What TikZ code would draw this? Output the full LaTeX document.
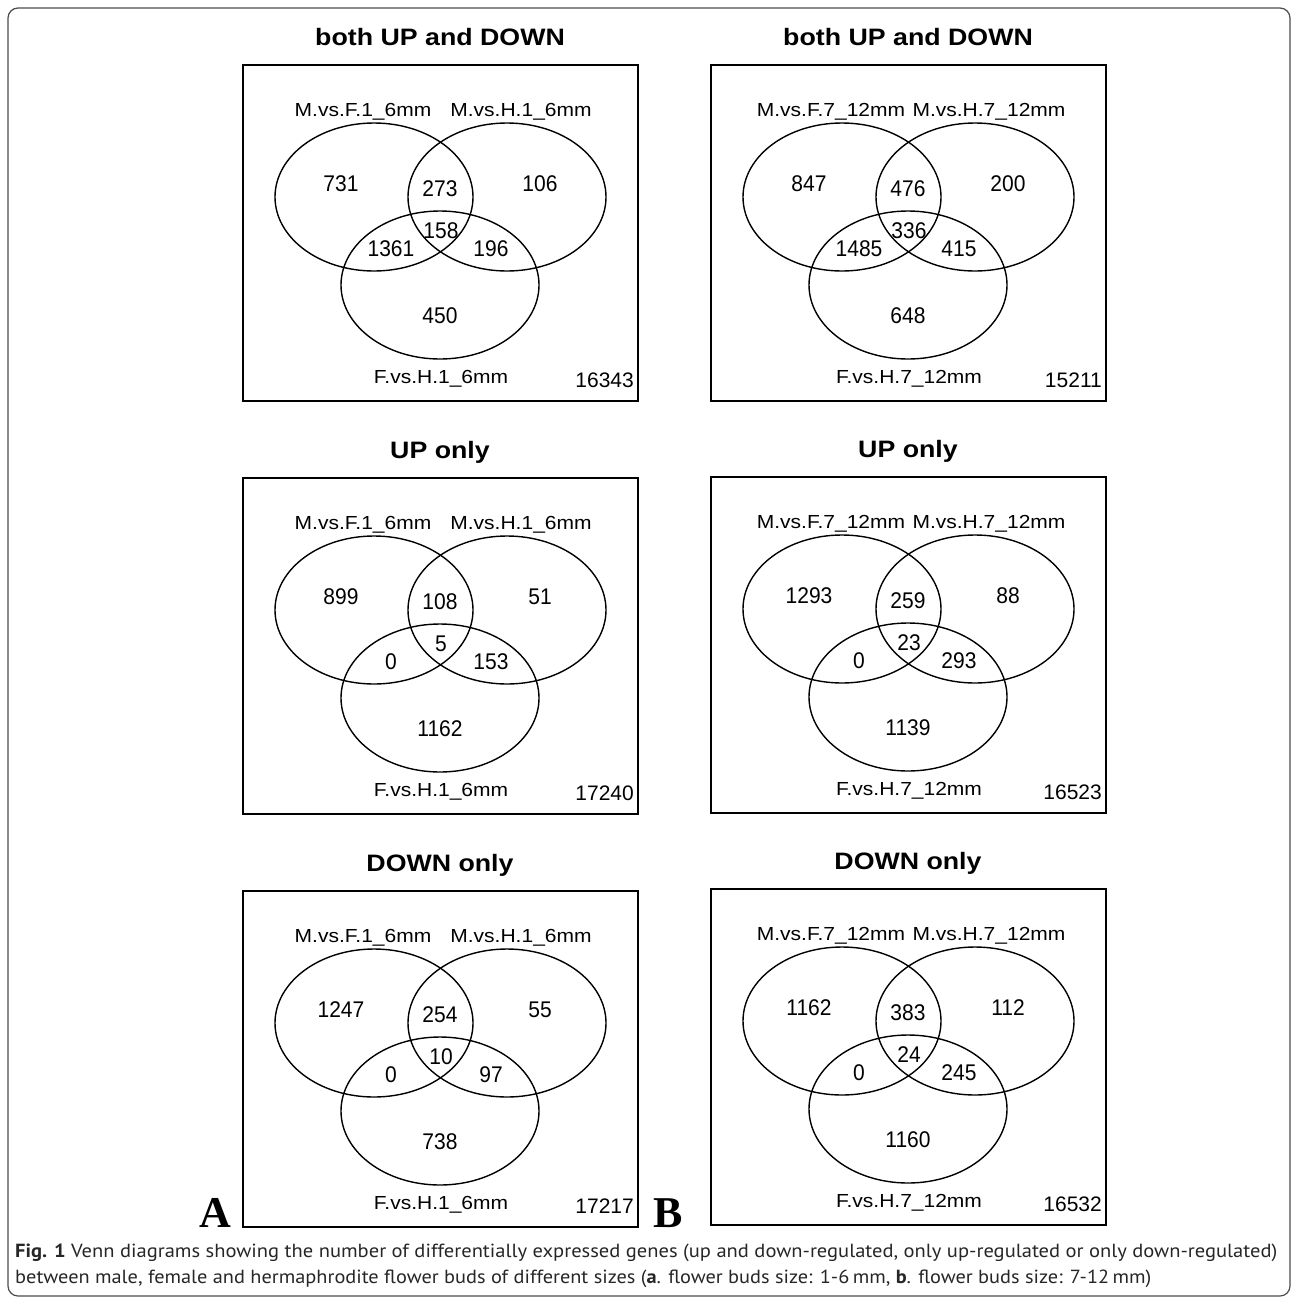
\documentclass[tikz,border=0pt]{standalone}
\usepackage{fontspec}
\setmainfont{Liberation Sans}
\newfontfamily\capfont{PT Sans}
\newfontfamily\serifbold{Liberation Serif}
\tikzset{
  boxline/.style={line width=1.4pt},
  vennline/.style={line width=1.4pt},
  numtxt/.style={font=\fontsize{21}{21}\selectfont, inner sep=0pt, text height=16.2pt, text depth=0pt},
  labtxt/.style={font=\fontsize{21}{21}\selectfont, inner sep=0pt, text height=13.5pt, text depth=0pt},
  tottxt/.style={font=\fontsize{21}{21}\selectfont, inner sep=0pt, text height=15pt, text depth=0pt, anchor=east},
  titletxt/.style={font=\fontsize{25}{25}\selectfont\bfseries, inner sep=0pt, text height=17pt, text depth=0pt},
  panellab/.style={font=\serifbold\bfseries\fontsize{44}{44}\selectfont, inner sep=0pt, text height=29pt, text depth=0pt},
  captxt/.style={font=\capfont\fontsize{19}{19}\selectfont, inner sep=0pt, anchor=base west, text=black!85},
  framebox/.style={line width=1.2pt, draw=black!70, rounded corners=10pt}
}
\newcommand\vennframe[6]{%
  \draw[boxline] (0,0) rectangle (395,336);
  \node[titletxt] (#1title) at (197,-28) {\scalebox{1.07}[0.95]{#2}};
  \draw[vennline] (131,132) ellipse [x radius=99pt, y radius=74pt];
  \draw[vennline] (264,132) ellipse [x radius=99pt, y radius=74pt];
  \draw[vennline] (197,220) ellipse [x radius=99pt, y radius=74pt];
  \node[labtxt] (#1la) at (120,45) {\scalebox{1}[0.9]{#3}};
  \node[labtxt] (#1lb) at (278,45) {\scalebox{1}[0.9]{#4}};
  \node[labtxt] (#1lc) at (198,312) {\scalebox{1}[0.9]{#5}};
  \node[tottxt] (#1tot) at (391,315) {#6};
}
\newcommand\vennnums[8]{%
  \node[numtxt] (#1a) at (98,118) {\scalebox{1}[1.08]{#2}};
  \node[numtxt] (#1ab) at (197,123) {\scalebox{1}[1.08]{#3}};
  \node[numtxt] (#1b) at (297,118) {\scalebox{1}[1.08]{#4}};
  \node[numtxt] (#1abc) at (198,165) {\scalebox{1}[1.08]{#5}};
  \node[numtxt] (#1ac) at (148,183) {\scalebox{1}[1.08]{#6}};
  \node[numtxt] (#1bc) at (248,183) {\scalebox{1}[1.08]{#7}};
  \node[numtxt] (#1c) at (197,250) {\scalebox{1}[1.08]{#8}};
}
\begin{document}
\begin{tikzpicture}[x=1pt, y=-1pt]
\useasboundingbox (0,0) rectangle (1292,1299);
\draw[framebox] (8,8) rectangle (1290,1296);

\begin{scope}[shift={(243,65)}]
  \vennframe{La}{both UP and DOWN}{M.vs.F.1\_6mm}{M.vs.H.1\_6mm}{F.vs.H.1\_6mm}{16343}
  \vennnums{La}{731}{273}{106}{158}{1361}{196}{450}
\end{scope}
\begin{scope}[shift={(243,478)}]
  \vennframe{Lb}{UP only}{M.vs.F.1\_6mm}{M.vs.H.1\_6mm}{F.vs.H.1\_6mm}{17240}
  \vennnums{Lb}{899}{108}{51}{5}{0}{153}{1162}
\end{scope}
\begin{scope}[shift={(243,891)}]
  \vennframe{Lc}{DOWN only}{M.vs.F.1\_6mm}{M.vs.H.1\_6mm}{F.vs.H.1\_6mm}{17217}
  \vennnums{Lc}{1247}{254}{55}{10}{0}{97}{738}
\end{scope}
\begin{scope}[shift={(711,65)}]
  \vennframe{Ra}{both UP and DOWN}{M.vs.F.7\_12mm}{M.vs.H.7\_12mm}{F.vs.H.7\_12mm}{15211}
  \vennnums{Ra}{847}{476}{200}{336}{1485}{415}{648}
\end{scope}
\begin{scope}[shift={(711,477)}]
  \vennframe{Rb}{UP only}{M.vs.F.7\_12mm}{M.vs.H.7\_12mm}{F.vs.H.7\_12mm}{16523}
  \vennnums{Rb}{1293}{259}{88}{23}{0}{293}{1139}
\end{scope}
\begin{scope}[shift={(711,889)}]
  \vennframe{Rc}{DOWN only}{M.vs.F.7\_12mm}{M.vs.H.7\_12mm}{F.vs.H.7\_12mm}{16532}
  \vennnums{Rc}{1162}{383}{112}{24}{0}{245}{1160}
\end{scope}

\node[panellab] (panelA) at (215,1213) {A};
\node[panellab] (panelB) at (668,1213) {B};

\node[captxt] (cap1) at (15,1257) {\resizebox{1262pt}{\height}{\textbf{Fig. 1} Venn diagrams showing the number of differentially expressed genes (up and down-regulated, only up-regulated or only down-regulated)}};
\node[captxt] (cap2) at (15,1283) {\resizebox{1136pt}{\height}{between male, female and hermaphrodite flower buds of different sizes (\textbf{a}. flower buds size: 1-6\,mm, \textbf{b}. flower buds size: 7-12\,mm)}};
\end{tikzpicture}
\end{document}
